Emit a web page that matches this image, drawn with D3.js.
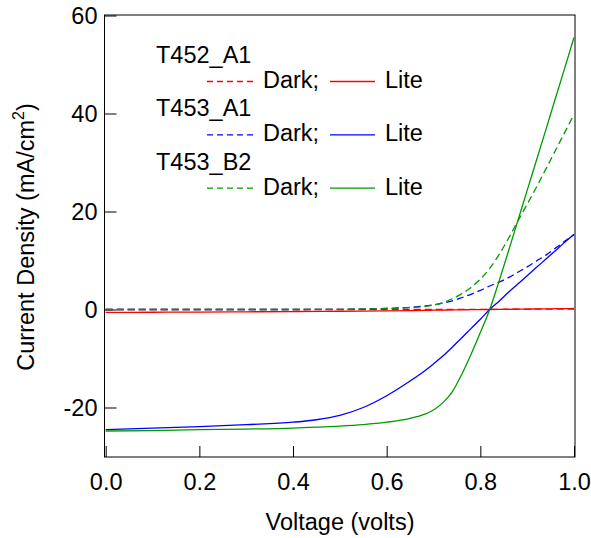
<!DOCTYPE html>
<html>
<head>
<meta charset="utf-8">
<script src="https://cdn.jsdelivr.net/npm/d3@7"></script>
<style>
  body { margin: 0; background: #fff; }
  svg text { font-family: "Liberation Sans", Arial, sans-serif; fill: #000; }
</style>
</head>
<body>
<div id="chart"></div>
<script>
// voltage grid (volts)
var volts = [0.0, 0.1, 0.2, 0.3, 0.4, 0.45, 0.5, 0.55, 0.6, 0.65, 0.68, 0.7, 0.72, 0.74, 0.76, 0.78, 0.8, 0.82, 0.84, 0.86, 0.88, 0.9, 0.92, 0.94, 0.96, 0.98, 1.0];

// current density (mA/cm2)
var t452Dark = [0, 0, 0, 0, 0, 0, 0, 0, 0, 0, 0, 0, 0, 0, 0.01, 0.01, 0.02, 0.03, 0.04, 0.05, 0.06, 0.07, 0.08, 0.08, 0.09, 0.1, 0.1];
var t452Lite = [-0.6, -0.56, -0.52, -0.47, -0.42, -0.39, -0.36, -0.32, -0.27, -0.21, -0.17, -0.14, -0.11, -0.08, -0.06, -0.04, -0.02, 0, 0.02, 0.04, 0.07, 0.09, 0.11, 0.13, 0.16, 0.18, 0.2];
var t453A1Dark = [0, 0, 0, 0, 0, 0.01, 0.03, 0.08, 0.2, 0.45, 0.7, 0.95, 1.3, 1.75, 2.4, 3.1, 3.9, 4.8, 5.6, 6.5, 7.6, 8.7, 9.9, 11.1, 12.5, 13.9, 15.3];
var t453A1Lite = [-24.5, -24.2, -23.9, -23.5, -23.0, -22.5, -21.6, -20.0, -17.6, -14.6, -12.6, -11.1, -9.5, -7.7, -5.8, -3.9, -2.0, 0, 1.7, 3.5, 5.2, 6.9, 8.6, 10.3, 12.0, 13.7, 15.3];
var t453B2Dark = [0, 0, 0, 0, 0, 0.01, 0.03, 0.1, 0.2, 0.4, 0.6, 0.9, 1.4, 2.2, 3.2, 4.5, 6.2, 8.4, 11.2, 14.5, 18.0, 21.5, 25.0, 28.7, 32.4, 36.1, 39.8];
var t453B2Lite = [-24.8, -24.7, -24.5, -24.4, -24.2, -24.0, -23.8, -23.5, -23.0, -22.2, -21.4, -20.5, -19.0, -16.8, -13.3, -9.2, -4.7, 0, 5.8, 11.9, 18.1, 24.3, 30.5, 36.7, 43.0, 49.2, 55.5];

var samples = ["T452_A1", "T453_A1", "T453_B2"];
var sampleColors = ["#ff0000", "#0000ff", "#009a00"];
var darkSeries = [t452Dark, t453A1Dark, t453B2Dark];
var liteSeries = [t452Lite, t453A1Lite, t453B2Lite];

var xTicks = [0, 0.2, 0.4, 0.6, 0.8, 1.0];
var yTicks = [-20, 0, 20, 40, 60];

var svgWidth = 591;
var svgHeight = 538;
var fontSize = 23.5;

var svg = d3.select("#chart")
  .append("svg")
  .attr("width", svgWidth)
  .attr("height", svgHeight);

var xScale = d3.scaleLinear().domain([0, 1]).range([105.7, 574]);
var yScale = d3.scaleLinear().domain([-30, 60]).range([456.5, 15.5]);

var frame = { left: 104.5, right: 575, top: 15, bottom: 457 };

// frame
svg.append("rect")
  .attr("x", frame.left)
  .attr("y", frame.top)
  .attr("width", frame.right - frame.left)
  .attr("height", frame.bottom - frame.top)
  .attr("fill", "none")
  .attr("stroke", "#000")
  .attr("stroke-width", 1);

// x axis, ticks inside
var xAxis = d3.axisBottom(xScale)
  .tickValues(xTicks)
  .tickSize(-11)
  .tickPadding(16)
  .tickFormat(d3.format(".1f"));
var xg = svg.append("g")
  .attr("transform", `translate(0, ${frame.bottom})`)
  .call(xAxis);
xg.select(".domain").remove();
xg.selectAll("text").attr("font-size", fontSize).attr("font-family", null);

// y axis, ticks inside; plain hyphen for negatives
var yAxis = d3.axisLeft(yScale)
  .tickValues(yTicks)
  .tickSize(-12)
  .tickPadding(7)
  .tickFormat(d => String(d));
var yg = svg.append("g")
  .attr("transform", `translate(${frame.left}, 0)`)
  .call(yAxis);
yg.select(".domain").remove();
yg.selectAll("text").attr("font-size", fontSize).attr("font-family", null);

// axis titles
svg.append("text")
  .attr("x", 340)
  .attr("y", 530)
  .attr("text-anchor", "middle")
  .attr("font-size", fontSize)
  .text("Voltage (volts)");

var yTitle = svg.append("text")
  .attr("transform", "translate(34, 237) rotate(-90)")
  .attr("text-anchor", "middle")
  .attr("font-size", fontSize);
yTitle.append("tspan").text("Current Density (mA/cm");
yTitle.append("tspan").attr("font-size", 16).attr("dy", -10).text("2");
yTitle.append("tspan").attr("dy", 10).text(")");

// curves
var line = d3.line()
  .x((d, i) => xScale(volts[i]))
  .y(d => yScale(d))
  .curve(d3.curveMonotoneX);

var plot = svg.append("g");
samples.forEach(function(name, i) {
  plot.append("path")
    .attr("d", line(darkSeries[i]))
    .attr("fill", "none")
    .attr("stroke", sampleColors[i])
    .attr("stroke-width", 1.3)
    .attr("stroke-dasharray", "7,4");
});
samples.forEach(function(name, i) {
  plot.append("path")
    .attr("d", line(liteSeries[i]))
    .attr("fill", "none")
    .attr("stroke", sampleColors[i])
    .attr("stroke-width", 1.3);
});

// legend
var legend = svg.append("g");
samples.forEach(function(name, i) {
  var top = 63 + i * 53.3;
  legend.append("text")
    .attr("x", 156)
    .attr("y", top)
    .attr("font-size", fontSize)
    .text(name);
  var rowY = top + 18.5;
  legend.append("line")
    .attr("x1", 207).attr("x2", 253)
    .attr("y1", rowY).attr("y2", rowY)
    .attr("stroke", sampleColors[i])
    .attr("stroke-width", 1.3)
    .attr("stroke-dasharray", "6,4");
  legend.append("text")
    .attr("x", 263)
    .attr("y", top + 25)
    .attr("font-size", fontSize)
    .text("Dark;");
  legend.append("line")
    .attr("x1", 330).attr("x2", 375)
    .attr("y1", rowY).attr("y2", rowY)
    .attr("stroke", sampleColors[i])
    .attr("stroke-width", 1.3);
  legend.append("text")
    .attr("x", 385)
    .attr("y", top + 25)
    .attr("font-size", fontSize)
    .text("Lite");
});
</script>
</body>
</html>
